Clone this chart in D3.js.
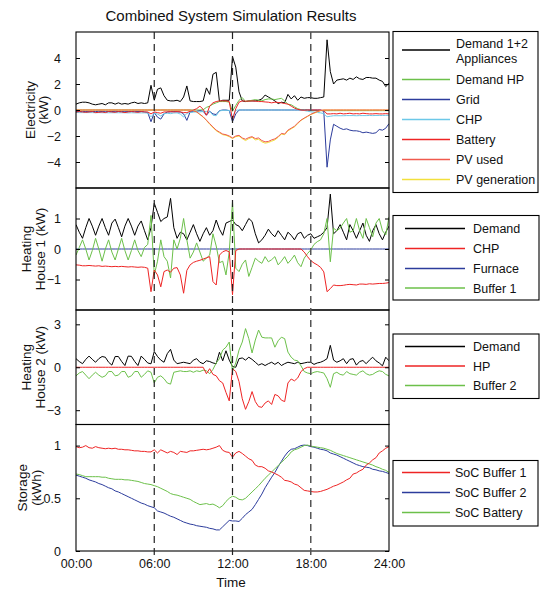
<!DOCTYPE html>
<html><head><meta charset="utf-8">
<script src="https://cdn.jsdelivr.net/npm/d3@7"></script>
<style>body{margin:0;background:#fff} svg text{font-family:Arial,"Liberation Sans",sans-serif;fill:#111}</style>
</head><body><svg id="c" width="541" height="593"></svg>
<script>
// ---- data (15-minute steps, 00:00 .. 24:00) ----
const hours = d3.range(0, 24.001, 0.25);
const xTickValues = [0, 6, 12, 18, 24];
const xTickLabels = ["00:00", "06:00", "12:00", "18:00", "24:00"];

const elecDemand = [0.45,0.55,0.6,0.6,0.55,0.45,0.4,0.45, 0.5,0.4,0.55,0.55,0.45,0.55,0.45,0.5,
 0.45,0.55,0.6,0.5,0.55,0.5,0.55,1.9, 0.75,1.6,1.7,1.1,0.75,0.7,0.7,0.75,
 0.65,1.0,1.85,0.7,0.65,0.65,0.65,0.7, 1.7,1.2,2.75,2.9,0.65,0.75,0.75,0.75,
 4.1,3.3,1.4,0.7,0.65,0.7,0.7,0.7, 0.75,0.85,1.15,1.0,0.85,0.7,0.5,0.6,
 0.55,1.2,0.85,1.1,0.75,1.0,0.9,0.95, 0.95,0.9,0.9,0.95,1.0,5.4,2.95,2.0,
 2.3,2.35,2.4,2.3,2.45,2.35,2.55,2.4, 2.35,2.5,2.5,2.45,2.45,2.3,2.2,1.8, 2.05];
const elecHP = [0,0,0,0,0,0,0,0, 0,0,0,0,0,0,0,0, 0,0,0,0,0,0,0,0, 0,0,0,0,0,0,0,0,
 0,0,0,0,0,0,0,0.02, 0.2,0.3,0.45,0.55,0.65,0.65,0.65,0.6,
 -0.1,0.35,0.75,0.95,0.65,0.7,0.75,0.8, 0.75,0.7,0.8,0.85,0.85,0.8,0.85,0.9,
 0.7,0.45,0.4,0.25,0.1,0.03,0,0, -0.05,-0.05,-0.05,-0.05,-0.05,-0.05,-0.05,-0.05,
 -0.05,-0.05,-0.05,-0.05,-0.05,-0.05,-0.05,-0.05, -0.05,-0.05,-0.05,-0.05,-0.05,-0.05,-0.05,-0.05, -0.05];
const elecGrid = [-0.12,-0.12,-0.1,-0.12,-0.13,-0.12,-0.12,-0.1, -0.12,-0.13,-0.12,-0.12,-0.1,-0.12,-0.12,-0.13,
 -0.12,-0.12,-0.1,-0.12,-0.12,-0.15,-0.2,-0.9, -0.2,-0.55,-0.7,-0.3,-0.15,-0.15,-0.12,-0.15,
 -0.15,-0.3,-0.8,-0.15,-0.12,-0.1,-0.05,-0.1, -0.4,-0.1,-0.3,-0.35,-0.05,0,0,-0.05,
 -0.9,-0.3,0,0,0,0,0,0, 0,0,0,0,0,0,0,0, 0,0,0,0,0,0,0,0,
 0,0,0,0,-0.1,-4.4,-2.3,-1.1, -1.25,-1.4,-1.5,-1.45,-1.55,-1.6,-1.6,-1.65,
 -1.75,-1.7,-1.75,-1.8,-1.75,-1.5,-1.55,-1.4, -1.05];
const elecCHP = [-0.19,-0.2,-0.2,-0.2,-0.2,-0.2,-0.21,-0.2, -0.21,-0.21,-0.21,-0.21,-0.21,-0.21,-0.21,-0.21,
 -0.22,-0.21,-0.22,-0.22,-0.22,-0.22,-0.23,-0.52, -0.25,-0.31,-0.46,-0.27,-0.25,-0.28,-0.23,-0.22,
 -0.31,-0.54,-0.26,-0.19,-0.16,-0.15,-0.14,-0.12, -0.11,-0.09,-0.4,-0.44,-0.07,-0.03,-0.02,-0.03,
 -0.55,-0.02,0,0,0,0,0,0, 0,0,0,0,0,0,0,0, 0,0,0,0,0,0,-0.04,-0.09,
 -0.14,-0.17,-0.19,-0.22,-0.28,-0.52,-0.48,-0.44, -0.44,-0.44,-0.44,-0.43,-0.43,-0.43,-0.44,-0.43,
 -0.43,-0.43,-0.42,-0.43,-0.42,-0.42,-0.42,-0.41, -0.41];
const elecBattery = [-0.15,-0.12,-0.15,-0.18,-0.15,-0.12,-0.2,-0.18, -0.15,-0.2,-0.12,-0.15,-0.18,-0.12,-0.15,-0.2,
 -0.15,-0.12,-0.15,-0.18,-0.12,-0.15,-0.15,-0.3, -0.15,-0.2,-0.25,-0.15,-0.15,-0.12,-0.15,-0.12,
 -0.15,-0.2,-0.2,-0.1,0,0.1,0.3,0.05, -0.4,0.3,0.55,0.65,0.7,0.7,0.7,0.65,
 -0.75,0.1,0.6,0.7,0.68,0.68,0.7,0.68, 0.65,0.65,0.62,0.6,0.55,0.6,0.58,0.55,
 0.5,0.45,0.3,0.15,0.05,0,-0.02,0, 0,0,0,0,-0.05,-0.3,-0.3,-0.28,
 -0.3,-0.25,-0.3,-0.28,-0.25,-0.3,-0.28,-0.3, -0.25,-0.28,-0.3,-0.3,-0.28,-0.3,-0.3,-0.28, -0.3];
const elecPVused = [0,0,0,0,0,0,0,0, 0,0,0,0,0,0,0,0, 0,0,0,0,0,0,0,0, 0,0,0,0,0,0,0,0,
 0,0,0,0,-0.05,-0.15,-0.33,-0.52, -0.78,-1.05,-1.3,-1.55,-1.7,-1.85,-1.9,-2.0,
 -2.15,-2.0,-1.95,-2.15,-2.25,-2.12,-2.05,-2.2, -2.15,-2.35,-2.45,-2.42,-2.3,-2.22,-2.05,-1.8,
 -1.85,-1.55,-1.4,-1.25,-1.0,-0.78,-0.62,-0.48, -0.33,-0.22,-0.12,-0.04,0,0,0,0,
 0,0,0,0,0,0,0,0, 0,0,0,0,0,0,0,0, 0];
const elecPVgen = [0,0,0,0,0,0,0,0, 0,0,0,0,0,0,0,0, 0,0,0,0,0,0,0,0, 0,0,0,0,0,0,0,0,
 0,0,0,-0.02,-0.05,-0.15,-0.35,-0.55, -0.8,-1.1,-1.35,-1.6,-1.75,-1.9,-1.95,-2.05,
 -2.2,-2.05,-2.0,-2.2,-2.35,-2.2,-2.1,-2.3, -2.25,-2.45,-2.55,-2.5,-2.4,-2.3,-2.1,-1.85,
 -1.9,-1.6,-1.45,-1.3,-1.05,-0.8,-0.65,-0.5, -0.35,-0.25,-0.15,-0.05,0,0,0,0,
 0,0,0,0,0,0,0,0, 0,0,0,0,0,0,0,0, 0];

const h1Demand = [0.8,0.55,0.35,0.7,1.0,0.75,0.45,0.75, 1.0,0.7,0.45,0.85,0.98,0.7,0.4,0.75,
 1.0,0.75,0.45,0.75,0.92,0.6,0.3,0.7, 1.5,1.2,0.9,1.0,1.05,1.66,0.7,0.35,
 0.55,0.5,0.3,0.55,0.8,0.5,0.25,0.5, 0.7,0.45,0.6,0.95,0.65,0.45,0.85,0.9,
 0.95,0.8,0.75,0.6,0.8,1.0,0.9,0.5, 0.2,0.3,0.45,0.65,0.5,0.4,0.6,0.45,
 0.3,0.55,0.45,0.3,0.5,0.55,0.35,0.45, 0.5,0.35,0.4,0.45,0.55,0.7,1.8,0.5,
 0.6,0.8,0.55,0.3,0.8,0.6,0.35,0.6, 0.85,0.45,0.25,0.6,0.8,0.5,0.3,0.55, 0.75];
const h1CHP = [-0.52,-0.53,-0.55,-0.55,-0.54,-0.55,-0.56,-0.55, -0.57,-0.56,-0.57,-0.58,-0.57,-0.58,-0.57,-0.58,
 -0.59,-0.58,-0.59,-0.6,-0.59,-0.6,-0.63,-1.4, -0.69,-0.85,-1.24,-0.74,-0.69,-0.76,-0.63,-0.61,
 -0.85,-1.45,-0.7,-0.52,-0.44,-0.4,-0.37,-0.33, -0.29,-0.25,-1.07,-1.18,-0.2,-0.09,-0.05,-0.09,
 -1.5,-0.05,0,0,0,0,0,0, 0,0,0,0,0,0,0,0, 0,0,0,0,0,0,-0.1,-0.25,
 -0.38,-0.46,-0.52,-0.6,-0.75,-1.4,-1.3,-1.18, -1.2,-1.2,-1.19,-1.17,-1.16,-1.17,-1.18,-1.15,
 -1.15,-1.16,-1.14,-1.15,-1.14,-1.13,-1.13,-1.12, -1.1];
const h1Furnace = [0,0,0,0,0,0,0,0, 0,0,0,0,0,0,0,0, 0,0,0,0,0,0,0,0, 0,0,0,0,0,0,0,0,
 0,0,0,0,0,0,0,0, 0,0,0,0,0,0,0,0, 0,0,0,0,0,0,0,0, 0,0,0,0,0,0,0,0,
 0,0,0,0,0,0,0,0, 0,0,0,0,0,0,0,0, 0,0,0,0,0,0,0,0, 0,0,0,0,0,0,0,0, 0];
const h1Buffer = [-0.2,0.05,0.3,0.0,-0.36,-0.05,0.35,0.0, -0.4,0.0,0.3,-0.1,-0.36,0.0,0.35,-0.05,
 -0.36,-0.05,0.3,-0.05,-0.25,0.05,0.15,1.1, -0.85,-0.4,0.3,-0.25,-0.4,-0.95,0.3,0.0,
 0.35,1.0,0.3,-0.3,-0.1,0.2,-0.1,-0.4, -0.3,-0.2,0.5,0.1,-0.45,-0.4,-0.85,-0.1,
 1.55,-0.63,-0.74,-0.5,-0.36,-0.9,-0.6,-0.3, -0.4,-0.47,-0.25,-0.42,-0.35,-0.25,-0.52,-0.4,
 -0.25,-0.47,-0.35,-0.2,-0.45,-0.58,-0.3,-0.15, -0.03,0.15,0.24,0.3,0.5,1.0,-0.42,0.68,
 0.6,0.68,0.85,1.0,0.55,0.6,1.0,0.6, 0.35,1.0,0.7,0.4,0.85,1.0,0.6,0.46, 1.05];

const h2Demand = [0.6,0.4,0.25,0.55,0.78,0.55,0.35,0.6, 0.75,0.7,0.35,0.15,0.75,0.75,0.4,0.12,
 0.78,0.76,0.4,0.12,0.78,0.55,0.3,0.24, 1.1,0.75,0.5,0.35,0.95,1.25,0.5,0.25,
 0.3,0.35,0.3,0.25,0.5,0.6,0.35,0.25, 0.45,0.4,0.3,0.25,1.05,0.45,1.15,0.5,
 0.05,0.0,0.6,0.65,0.5,0.7,0.55,0.35, 0.15,0.25,0.12,0.25,0.35,0.2,0.35,0.12,
 0.25,0.35,0.3,0.25,0.35,0.25,0.3,0.35, 0.35,0.2,0.3,0.35,0.45,0.6,1.53,0.5,
 0.35,0.45,0.6,0.25,0.55,0.6,0.15,0.4, 0.47,0.25,0.5,0.7,0.45,0.3,0.1,0.7, 0.45];
const h2HP = [0,0,0,0,0,0,0,0, 0,0,0,0,0,0,0,0, 0,0,0,0,0,0,0,0, 0,0,0,0,0,0,0,0,
 0,0,0,0,0,0,0,0, -0.45,-0.1,-0.5,-0.6,-0.94,-1.1,-1.76,-2.35,
 -0.1,-0.3,-1.0,-2.2,-2.94,-2.4,-1.7,-2.4, -2.75,-2.8,-2.5,-2.35,-2.6,-1.9,-2.0,-2.3,
 -2.4,-1.1,-0.82,-0.95,-0.75,-0.3,-0.1,0, 0,0,0,0,0,0,0,0,
 0,0,0,0,0,0,0,0, 0,0,0,0,0,0,0,0, 0];
const h2Buffer = [-0.6,-0.4,-0.3,-0.55,-0.8,-0.55,-0.35,-0.55, -0.7,-0.6,-0.3,-0.3,-0.6,-0.55,-0.3,-0.3,
 -0.7,-0.6,-0.3,-0.3,-0.7,-0.5,-0.25,-0.35, -1.1,-0.7,-0.6,-0.8,-1.1,-1.18,-0.35,-0.3,
 -0.25,-0.3,-0.3,-0.25,-0.35,-0.25,-0.3,-0.2, -0.25,-0.45,-0.15,0.3,0.6,1.2,1.4,1.76,
 -0.3,0.3,1.2,1.76,2.7,2.0,1.0,1.9, 2.6,2.1,2.05,2.05,2.05,1.4,1.85,2.1,
 2.0,1.06,0.7,0.5,0.45,0.1,-0.3,-0.4, -0.45,-0.35,-0.3,-0.35,-0.4,-0.8,-1.4,-0.45,
 -0.35,-0.5,-0.55,-0.3,-0.45,-0.5,-0.55,-0.35, -0.25,-0.45,-0.55,-0.5,-0.35,-0.25,-0.3,-0.5, -0.6];

const socBuffer1 = [0.99,0.98,0.985,1.0,0.98,0.975,0.99,0.98, 0.975,0.97,0.975,0.97,0.975,0.965,0.965,0.96,
 0.96,0.955,0.95,0.95,0.945,0.945,0.94,0.94, 0.96,0.93,0.96,0.945,0.93,0.945,0.935,0.915,
 0.945,0.94,0.935,0.95,0.95,0.955,0.96,0.965, 0.96,0.965,0.975,0.985,1.0,0.955,0.94,0.935,
 0.89,0.93,0.945,0.925,0.9,0.875,0.86,0.815, 0.8,0.8,0.785,0.76,0.75,0.735,0.72,0.7,
 0.67,0.665,0.655,0.635,0.625,0.6,0.575,0.57, 0.565,0.56,0.56,0.565,0.575,0.585,0.6,0.615,
 0.625,0.64,0.655,0.675,0.69,0.73,0.74,0.76, 0.775,0.815,0.835,0.865,0.885,0.93,0.95,0.975, 0.99];
const socBuffer2 = [0.72,0.71,0.7,0.69,0.675,0.665,0.655,0.64, 0.63,0.615,0.6,0.59,0.57,0.56,0.545,0.53,
 0.515,0.5,0.485,0.47,0.455,0.445,0.43,0.42, 0.41,0.38,0.37,0.36,0.345,0.33,0.32,0.305,
 0.29,0.275,0.265,0.255,0.25,0.24,0.235,0.23, 0.225,0.215,0.21,0.2,0.2,0.23,0.26,0.29,
 0.285,0.285,0.28,0.31,0.345,0.37,0.395,0.44, 0.49,0.54,0.6,0.65,0.7,0.745,0.8,0.85,
 0.9,0.94,0.965,0.97,0.985,1.0,1.005,1.0, 0.99,0.985,0.975,0.965,0.96,0.95,0.93,0.92,
 0.91,0.895,0.88,0.865,0.85,0.835,0.82,0.81, 0.8,0.795,0.79,0.775,0.77,0.76,0.755,0.745, 0.735];
const socBattery = [0.73,0.725,0.715,0.705,0.705,0.705,0.705,0.705, 0.7,0.7,0.69,0.685,0.68,0.68,0.68,0.675,
 0.675,0.67,0.665,0.66,0.65,0.64,0.635,0.63, 0.62,0.61,0.595,0.58,0.565,0.545,0.535,0.53,
 0.52,0.51,0.5,0.49,0.47,0.455,0.44,0.445, 0.45,0.44,0.445,0.43,0.41,0.43,0.47,0.5,
 0.52,0.51,0.49,0.485,0.5,0.53,0.56,0.59, 0.62,0.655,0.69,0.72,0.75,0.78,0.81,0.84,
 0.87,0.9,0.94,0.96,0.97,0.985,1.0,1.005, 0.995,0.99,0.985,0.98,0.975,0.965,0.955,0.94,
 0.925,0.915,0.905,0.895,0.885,0.875,0.865,0.855, 0.845,0.835,0.825,0.815,0.8,0.79,0.775,0.765, 0.745];

const C = {black:"#000000", green:"#6cc04a", blue:"#2c3c9c", cyan:"#6cc8e8", red:"#ee2424",
  salmon:"#f05a4e", yellow:"#f2e03c"};

const panels = [
  {top:32, bottom:188, domain:[-6,6], ticks:[-4,-2,0,2,4], label:["Electricity","(kW)"], lx:[35,48],
   series:[[elecDemand,C.black],[elecHP,C.green],[elecGrid,C.blue],[elecCHP,C.cyan],
           [elecBattery,C.red],[elecPVgen,C.yellow],[elecPVused,C.salmon]]},
  {top:188, bottom:310, domain:[-2,2], ticks:[-1,0,1], label:["Heating","House 1 (kW)"], lx:[31,45],
   series:[[h1Furnace,C.blue],[h1Demand,C.black],[h1Buffer,C.green],[h1CHP,C.red]]},
  {top:310, bottom:424.5, domain:[-4,4], ticks:[-3,0,3], label:["Heating","House 2 (kW)"], lx:[31,45],
   series:[[h2Demand,C.black],[h2Buffer,C.green],[h2HP,C.red]]},
  {top:424.5, bottom:551, domain:[0,1.2], ticks:[0,0.5,1], label:["Storage","(kWh)"], lx:[27,41],
   series:[[socBuffer2,C.blue],[socBattery,C.green],[socBuffer1,C.red]]}
];

const legends = [
  {x:393, y:31.5, w:145, h:161, lx1:402, lx2:450, tx:456,
   items:[{t:["Demand 1+2","Appliances"],y:50,c:C.black},{t:["Demand HP"],y:79.5,c:C.green},
          {t:["Grid"],y:99.5,c:C.blue},{t:["CHP"],y:119.5,c:C.cyan},{t:["Battery"],y:139.5,c:C.red},
          {t:["PV used"],y:159.5,c:C.salmon},{t:["PV generation"],y:179.5,c:C.yellow}]},
  {x:393, y:215.5, w:146, h:84.5, lx1:405, lx2:465, tx:473,
   items:[{t:["Demand"],y:228.5,c:C.black},{t:["CHP"],y:248.5,c:C.red},
          {t:["Furnace"],y:268.5,c:C.blue},{t:["Buffer 1"],y:288,c:C.green}]},
  {x:393, y:334, w:146, h:64.5, lx1:405, lx2:465, tx:473,
   items:[{t:["Demand"],y:346.5,c:C.black},{t:["HP"],y:366,c:C.red},{t:["Buffer 2"],y:385.5,c:C.green}]},
  {x:393, y:460.5, w:145, h:65.5, lx1:402, lx2:450, tx:455,
   items:[{t:["SoC Buffer 1"],y:472.5,c:C.red},{t:["SoC Buffer 2"],y:492.5,c:C.blue},{t:["SoC Battery"],y:512.5,c:C.green}]}
];

// ---- drawing ----
const svg = d3.select("#c");
const x = d3.scaleLinear().domain([0, 24]).range([76, 389]);

svg.append("text").attr("x", 231).attr("y", 21).attr("text-anchor", "middle")
  .style("font-size", "15px").text("Combined System Simulation Results");

panels.forEach((p, k) => {
  const y = d3.scaleLinear().domain(p.domain).range([p.bottom, p.top]);
  const g = svg.append("g");
  const cid = "clip" + k;
  svg.append("clipPath").attr("id", cid).append("rect")
    .attr("x", x(0)).attr("y", p.top).attr("width", x(24) - x(0)).attr("height", p.bottom - p.top);
  const line = d3.line().x((d, i) => x(hours[i])).y(d => y(d));
  const lg = g.append("g").attr("clip-path", `url(#${cid})`);
  p.series.forEach(([vals, col]) => {
    lg.append("path").datum(vals).attr("d", line).attr("fill", "none")
      .attr("stroke", col).attr("stroke-width", 1).attr("stroke-linejoin", "round");
  });
  const ax = g.append("g").attr("transform", `translate(${x(0)},0)`)
    .call(d3.axisLeft(y).tickValues(p.ticks).tickSize(-4).tickPadding(15).tickFormat(d3.format("")));
  ax.select(".domain").remove();
  ax.selectAll("line").attr("stroke", "#000");
  ax.selectAll("text").style("font-size", "12.5px").attr("fill", "#111");
  g.append("g").attr("transform", `translate(${x(24)},0)`)
    .call(d3.axisRight(y).tickValues(p.ticks).tickSize(-4).tickFormat(""))
    .call(s => s.select(".domain").remove())
    .selectAll("line").attr("stroke", "#000");
  g.append("rect").attr("x", x(0)).attr("y", p.top).attr("width", x(24) - x(0))
    .attr("height", p.bottom - p.top).attr("fill", "none").attr("stroke", "#000").attr("stroke-width", 1.1);
  const yc = (p.top + p.bottom) / 2;
  p.lx.forEach((bx, j) => {
    svg.append("text").attr("transform", `translate(${bx},${yc}) rotate(-90)`)
      .attr("text-anchor", "middle").style("font-size", "13.5px").text(p.label[j]);
  });
});

[6, 12, 18].forEach(h => {
  svg.append("line").attr("x1", x(h)).attr("x2", x(h)).attr("y1", 32).attr("y2", 556)
    .attr("stroke", h === 18 ? "#555" : "#222").attr("stroke-width", h === 18 ? 1.5 : 1.2)
    .attr("stroke-dasharray", "7,5");
});

const bx = svg.append("g").attr("transform", "translate(0,551)")
  .call(d3.axisBottom(x).tickValues(xTickValues).tickSize(0).tickPadding(8)
        .tickFormat((d, i) => xTickLabels[i]));
bx.select(".domain").remove();
bx.selectAll("text").style("font-size", "12.5px").attr("fill", "#111");
svg.append("text").attr("x", 231).attr("y", 587).attr("text-anchor", "middle")
  .style("font-size", "13.5px").text("Time");

legends.forEach(L => {
  const g = svg.append("g");
  g.append("rect").attr("x", L.x).attr("y", L.y).attr("width", L.w).attr("height", L.h)
    .attr("fill", "#fff").attr("stroke", "#000").attr("stroke-width", 1.1);
  L.items.forEach(it => {
    g.append("line").attr("x1", L.lx1).attr("x2", L.lx2).attr("y1", it.y).attr("y2", it.y)
      .attr("stroke", it.c).attr("stroke-width", 1.3);
    if (it.t.length === 2) {
      g.append("text").attr("x", L.tx).attr("y", it.y - 2.5).style("font-size", "12.5px").text(it.t[0]);
      g.append("text").attr("x", L.tx).attr("y", it.y + 12.5).style("font-size", "12.5px").text(it.t[1]);
    } else {
      g.append("text").attr("x", L.tx).attr("y", it.y + 4.5).style("font-size", "12.5px").text(it.t[0]);
    }
  });
});
</script></body></html>
